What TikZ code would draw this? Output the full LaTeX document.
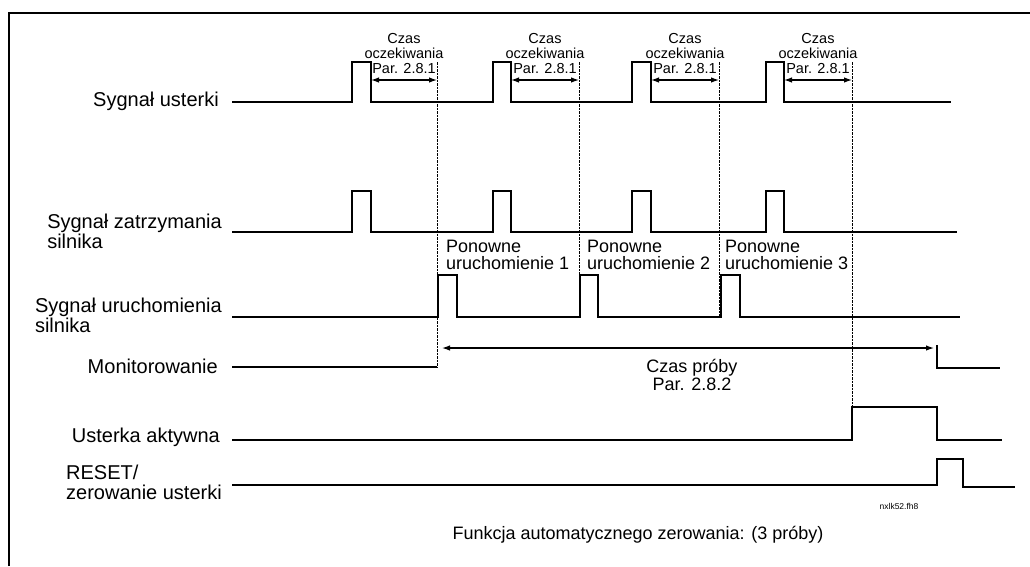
\documentclass[tikz,border=0pt]{standalone}
\usepackage{fontspec}
\setmainfont{Liberation Sans}
\usetikzlibrary{arrows.meta}
\begin{document}
\begin{tikzpicture}[x=1pt,y=-1pt,
  sig/.style={line width=1.7pt, line join=miter},
  guide/.style={line width=0.9pt, dash pattern=on 2.5pt off 1pt},
  dimline/.style={line width=1.2pt, {Latex[length=8pt,width=5.5pt]}-{Latex[length=8pt,width=5.5pt]}},
  lbl/.style={font=\fontsize{20}{20}\selectfont, align=left, anchor=east, inner sep=0pt},
  small/.style={font=\fontsize{14.5}{15}\selectfont, align=center, inner sep=0pt},
  mid/.style={font=\fontsize{18}{17}\selectfont, inner sep=0pt}]
\useasboundingbox (0,0) rectangle (1030,566);
\draw[line width=2.2pt] (9,566) -- (9,13) -- (1030,13);

% row labels
\node[lbl] (lfault) at (219,101) {Sygnał usterki};
\node[lbl] (lstop) at (222,231) {Sygnał zatrzymania\\silnika};
\node[lbl] (lstart) at (222,315) {Sygnał uruchomienia\\silnika};
\node[lbl] (lmon) at (218,366) {Monitorowanie};
\node[lbl] (lact) at (220,437) {Usterka aktywna};
\node[lbl] (lreset) at (222,482) {RESET/\\zerowanie usterki};

% signals
\draw[sig] (232,102) -- (352,102) -- (352,62) -- (371,62) -- (371,102)
  -- (493,102) -- (493,62) -- (511,62) -- (511,102)
  -- (632,102) -- (632,62) -- (651,62) -- (651,102)
  -- (766,102) -- (766,62) -- (784,62) -- (784,102) -- (951,102);
\draw[sig] (232,232) -- (352,232) -- (352,191) -- (371,191) -- (371,232)
  -- (493,232) -- (493,191) -- (511,191) -- (511,232)
  -- (632,232) -- (632,191) -- (651,191) -- (651,232)
  -- (766,232) -- (766,191) -- (784,191) -- (784,232) -- (957,232);
\draw[sig] (232,317) -- (438,317) -- (438,275) -- (457,275) -- (457,317)
  -- (580,317) -- (580,275) -- (598,275) -- (598,317)
  -- (721,317) -- (721,275) -- (740,275) -- (740,317) -- (960,317);
\draw[sig] (232,367) -- (437,367);
\draw[sig] (937,345) -- (937,368) -- (1000,368);
\draw[sig] (232,440) -- (852,440) -- (852,407) -- (937,407) -- (937,440) -- (1002,440);
\draw[sig] (232,485) -- (937,485) -- (937,459) -- (963,459) -- (963,487) -- (1015,487);

% guide lines
\draw[guide] (437,62) -- (437,367);
\draw[guide] (579,62) -- (579,317);
\draw[guide] (719,62) -- (719,317);
\draw[guide] (852,62) -- (852,407);

% wait-time dimensions
\coordinate (a1) at (371,80); \coordinate (b1) at (437,80);
\coordinate (a2) at (511,80); \coordinate (b2) at (579,80);
\coordinate (a3) at (651,80); \coordinate (b3) at (719,80);
\coordinate (a4) at (784,80); \coordinate (b4) at (852,80);
\draw[dimline] (a1) -- (b1);
\draw[dimline] (a2) -- (b2);
\draw[dimline] (a3) -- (b3);
\draw[dimline] (a4) -- (b4);
\node[small] (w1) at (404,54) {Czas\\oczekiwania\\Par. 2.8.1};
\node[small] (w2) at (545,54) {Czas\\oczekiwania\\Par. 2.8.1};
\node[small] (w3) at (685,54) {Czas\\oczekiwania\\Par. 2.8.1};
\node[small] (w4) at (818,54) {Czas\\oczekiwania\\Par. 2.8.1};

% restart labels
\node[mid, align=left, anchor=west] (r1) at (446,255) {Ponowne\\uruchomienie 1};
\node[mid, align=left, anchor=west] (r2) at (587,255) {Ponowne\\uruchomienie 2};
\node[mid, align=left, anchor=west] (r3) at (725,255) {Ponowne\\uruchomienie 3};

% trial time
\coordinate (t1) at (442,348); \coordinate (t2) at (934,348);
\draw[dimline] (t1) -- (t2);
\node[font=\fontsize{18}{18}\selectfont, inner sep=0pt, align=center] (tt) at (692,375) {Czas próby\\Par. 2.8.2};

\node[font=\fontsize{8.5}{9}\selectfont, inner sep=0pt] (code) at (899,506) {nxlk52.fh8};
\node[font=\fontsize{18}{18}\selectfont, inner sep=0pt] (cap) at (638,535) {Funkcja automatycznego zerowania: (3 próby)};
\end{tikzpicture}
\end{document}
